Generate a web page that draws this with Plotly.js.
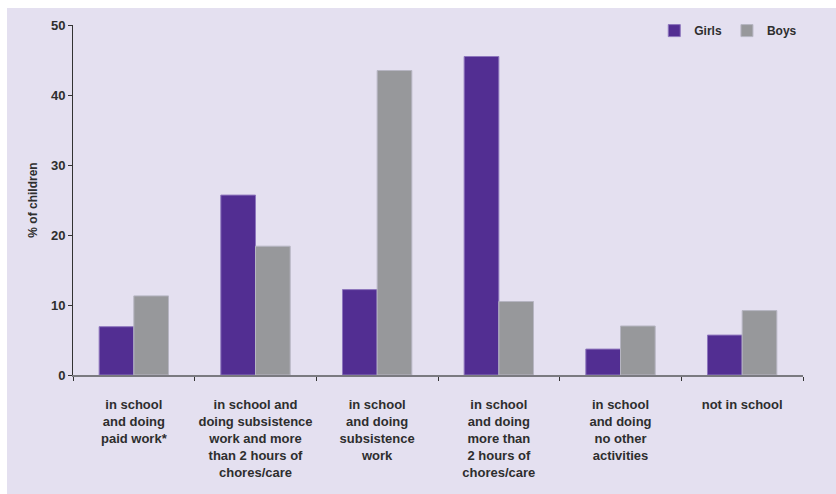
<!DOCTYPE html>
<html>
<head>
<meta charset="utf-8">
<script src="https://cdn.plot.ly/plotly-3.0.1.min.js"></script>
<style>
html,body{margin:0;padding:0;background:#ffffff;width:836px;height:494px;overflow:hidden;}
#chart{position:absolute;left:7px;top:8px;width:829px;height:486px;}
</style>
</head>
<body>
<div id="chart"></div>
<script>
const categories = [
  "in school<br>and doing<br>paid work*",
  "in school and<br>doing subsistence<br>work and more<br>than 2 hours of<br>chores/care",
  "in school<br>and doing<br>subsistence<br>work",
  "in school<br>and doing<br>more than<br>2 hours of<br>chores/care",
  "in school<br>and doing<br>no other<br>activities",
  "not in school"
];
const girls = [6.9, 25.7, 12.2, 45.5, 3.7, 5.7];
const boys = [11.3, 18.4, 43.5, 10.5, 7.0, 9.2];
const yTickVals = [0, 10, 20, 30, 40, 50];

const fontFam = "'Liberation Sans', Arial, sans-serif";
const bg = "#e4e0f0";
const txt = "#2e2e2e";

const traces = [
  {type: "bar", name: "Girls", x: categories, y: girls,
   marker: {color: "#522e92", line: {color: "#8d76bd", width: 1}}},
  {type: "bar", name: "Boys", x: categories, y: boys,
   marker: {color: "#97989b", line: {color: "#b6b5c2", width: 1}}}
];

const layout = {
  width: 829, height: 486,
  paper_bgcolor: bg, plot_bgcolor: bg,
  margin: {l: 66, r: 33, t: 17, b: 119, autoexpand: false},
  barmode: "group", bargap: 0.43, bargroupgap: 0,
  font: {family: fontFam, size: 12, color: txt, weight: "bold"},
  showlegend: true,
  legend: {orientation: "h", x: 0.999, xanchor: "right",
           y: 0.984, yanchor: "middle",
           bgcolor: "rgba(0,0,0,0)", font: {family: fontFam, size: 12, color: txt, weight: "bold"},
           itemwidth: 30, traceorder: "normal"},
  xaxis: {type: "category", showgrid: false, zeroline: false,
          showline: true, linecolor: "#7a7a80", linewidth: 1.5,
          ticks: "outside", tickson: "boundaries", ticklen: 4, tickcolor: "#333333",
          tickangle: 0, automargin: false, ticklabelstandoff: 17,
          tickfont: {family: fontFam, size: 13, color: txt, weight: "bold"},
          fixedrange: true},
  yaxis: {range: [0, 50], tickvals: yTickVals, ticktext: yTickVals.map(String),
          showgrid: false, zeroline: false, showline: true, linecolor: "#333333", linewidth: 1,
          ticks: "outside", ticklen: 4, tickcolor: "#333333", automargin: false,
          tickfont: {family: fontFam, size: 13, color: txt, weight: "bold"},
          title: {text: "% of children", standoff: 10,
                  font: {family: fontFam, size: 12, color: txt, weight: "bold"}},
          fixedrange: true}
};

Plotly.newPlot("chart", traces, layout, {displayModeBar: false, staticPlot: true});
</script>
</body>
</html>
